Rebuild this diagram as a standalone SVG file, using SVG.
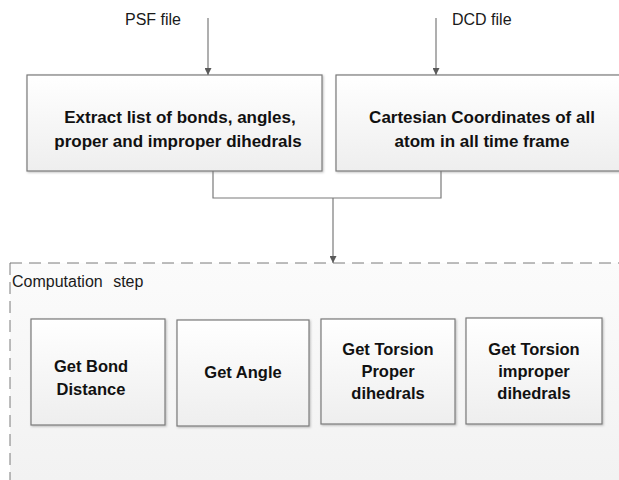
<svg xmlns="http://www.w3.org/2000/svg" width="619" height="480" viewBox="0 0 619 480">
  <defs>
    <linearGradient id="boxfill" x1="0" y1="0" x2="0" y2="1">
      <stop offset="0" stop-color="#ffffff"/>
      <stop offset="1" stop-color="#eeeeee"/>
    </linearGradient>
    <linearGradient id="areafill" x1="0" y1="0" x2="0" y2="1">
      <stop offset="0" stop-color="#fbfbfb"/>
      <stop offset="1" stop-color="#f1f1f1"/>
    </linearGradient>
    <filter id="shadow" x="-10%" y="-10%" width="120%" height="120%">
      <feDropShadow dx="1" dy="1" stdDeviation="0.8" flood-color="#000" flood-opacity="0.25"/>
    </filter>
    <marker id="arrow" viewBox="0 0 10 10" refX="10" refY="5" markerWidth="7" markerHeight="7" markerUnits="userSpaceOnUse" orient="auto">
      <path d="M0,0 L10,5 L0,10 z" fill="#5a5a5a"/>
    </marker>
  </defs>
  <style>
    .box { fill: url(#boxfill); stroke: #7a7a7a; stroke-width: 1.2; filter: url(#shadow); }
    .label { font-family: "Liberation Sans", Arial, sans-serif; font-size: 16px; fill: #1a1a1a; }
    .bold { font-family: "Liberation Sans", Arial, sans-serif; font-weight: bold; font-size: 16.5px; fill: #111111; text-anchor: middle; }
    .big { font-size: 17px; }
    .conn { fill: none; stroke: #7a7a7a; stroke-width: 1.2; }
  </style>
  <rect width="619" height="480" fill="#ffffff"/>

  <g id="computation-area">
    <rect x="10" y="263" width="640" height="240" fill="url(#areafill)" stroke="#7a7a7a" stroke-width="1" stroke-dasharray="12 7"/>
    <text class="label" x="12" y="287" font-size="17" word-spacing="6">Computation step</text>
  </g>

  <g id="psf-label">
    <text class="label" x="125" y="25">PSF file</text>
  </g>
  <g id="dcd-label">
    <text class="label" x="452" y="25">DCD file</text>
  </g>

  <g id="extract">
    <rect class="box" x="27" y="75" width="295" height="96"/>
    <text class="bold big" x="180" y="123">Extract list of bonds, angles,</text>
    <text class="bold big" x="178" y="147">proper and improper dihedrals</text>
  </g>

  <g id="cartesian">
    <rect class="box" x="336" y="75" width="300" height="96"/>
    <text class="bold big" x="482" y="123">Cartesian Coordinates of all</text>
    <text class="bold big" x="482" y="147">atom in all time frame</text>
  </g>

  <g id="bond">
    <rect class="box" x="31" y="319" width="134" height="106"/>
    <text class="bold" x="91" y="372">Get Bond</text>
    <text class="bold" x="91" y="395">Distance</text>
  </g>

  <g id="angle">
    <rect class="box" x="177" y="320" width="132" height="106"/>
    <text class="bold" x="243" y="378">Get Angle</text>
  </g>

  <g id="proper">
    <rect class="box" x="321" y="319" width="134" height="105"/>
    <text class="bold" x="388" y="355">Get Torsion</text>
    <text class="bold" x="388" y="377">Proper</text>
    <text class="bold" x="388" y="399">dihedrals</text>
  </g>

  <g id="improper">
    <rect class="box" x="466" y="318" width="136" height="106"/>
    <text class="bold" x="534" y="355">Get Torsion</text>
    <text class="bold" x="534" y="377">improper</text>
    <text class="bold" x="534" y="399">dihedrals</text>
  </g>

  <g id="connectors">
    <line class="conn" x1="208" y1="18" x2="208" y2="75" marker-end="url(#arrow)"/>
    <line class="conn" x1="436" y1="18" x2="436" y2="75" marker-end="url(#arrow)"/>
    <polyline class="conn" points="213,171 213,198 441,198 441,171"/>
    <line class="conn" x1="333" y1="198" x2="333" y2="263" marker-end="url(#arrow)"/>
  </g>
</svg>
